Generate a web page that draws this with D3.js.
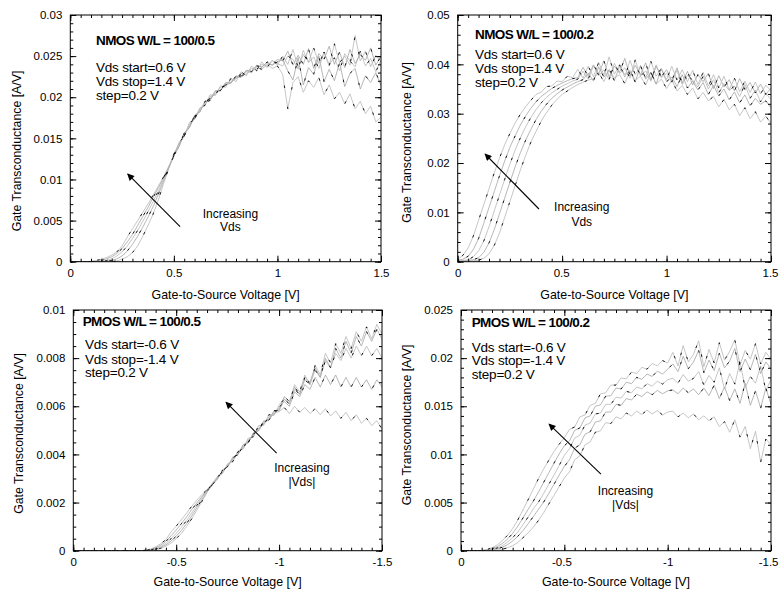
<!DOCTYPE html>
<html><head><meta charset="utf-8">
<script src="https://cdn.jsdelivr.net/npm/d3@7/dist/d3.min.js"></script>
<style>
body{margin:0;background:#fff;}
svg{display:block;font-family:"Liberation Sans",Arial,Helvetica,sans-serif;}
</style></head><body>
<svg id="chart" width="779" height="593"></svg>
<script>
// Gate-to-source voltage grids [V]
const VGS_N = [0,0.025,0.05,0.075,0.1,0.125,0.15,0.175,0.2,0.225,0.25,0.275,0.3,0.325,0.35,0.375,0.4,0.425,0.45,0.475,0.5,0.525,0.55,0.575,0.6,0.625,0.65,0.675,0.7,0.725,0.75,0.775,0.8,0.825,0.85,0.875,0.9,0.925,0.95,0.975,1,1.025,1.05,1.075,1.1,1.125,1.15,1.175,1.2,1.225,1.25,1.275,1.3,1.325,1.35,1.375,1.4,1.425,1.45,1.475,1.5];
const VGS_P = [0,-0.025,-0.05,-0.075,-0.1,-0.125,-0.15,-0.175,-0.2,-0.225,-0.25,-0.275,-0.3,-0.325,-0.35,-0.375,-0.4,-0.425,-0.45,-0.475,-0.5,-0.525,-0.55,-0.575,-0.6,-0.625,-0.65,-0.675,-0.7,-0.725,-0.75,-0.775,-0.8,-0.825,-0.85,-0.875,-0.9,-0.925,-0.95,-0.975,-1,-1.025,-1.05,-1.075,-1.1,-1.125,-1.15,-1.175,-1.2,-1.225,-1.25,-1.275,-1.3,-1.325,-1.35,-1.375,-1.4,-1.425,-1.45,-1.475,-1.5];

// Gate transconductance, in mA/V (converted to A/V for the axis)
// NMOS W/L = 100/0.5
const N05_VDS06 = [0,0,0,0,0,0,0,0,0.02,0.1,0.3,0.6,1.1,1.9,3.1,4.4,5.8,7.5,9.5,11.3,13.0,14.4,15.3,16.6,17.4,18.5,19.1,19.9,20.4,20.9,21.5,21.7,22.4,22.4,23.1,23.0,23.6,23.4,24.0,23.5,23.8,22.8,18.6,21.8,22.5,20.6,22.0,21.2,22.4,20.3,21.5,19.8,20.6,19.2,20.4,18.6,19.5,18.0,18.9,17.0,17.6];
const N05_VDS08 = [0,0,0,0,0,0,0,0.05,0.15,0.35,0.7,1.3,2.1,3.1,4.2,5.4,6.7,8.2,9.8,11.4,12.9,14.0,15.6,16.3,17.7,18.2,19.4,19.6,20.7,20.8,21.7,21.8,22.5,22.6,23.2,23.2,23.8,23.7,24.2,23.9,24.3,24.6,23.2,22.1,24.8,21.5,23.6,22.8,25.0,21.9,23.4,22.0,24.2,21.3,22.9,23.5,21.0,22.6,21.8,23.0,21.4];
const N05_VDS10 = [0,0,0,0,0,0,0.05,0.15,0.35,0.7,1.2,1.9,2.8,3.8,4.9,6.1,7.3,8.6,10.0,11.4,13.1,14.3,15.3,16.7,17.4,18.6,19.1,20.1,20.4,21.2,21.4,22.1,22.2,22.9,22.8,23.5,23.4,24.0,23.8,24.4,24.1,23.8,25.0,24.6,23.4,25.7,24.2,24.9,23.5,25.5,24.0,24.8,23.2,25.3,24.4,23.7,25.6,23.8,24.7,23.1,24.5];
const N05_VDS12 = [0,0,0,0,0,0.05,0.15,0.35,0.6,1.0,1.6,2.4,3.3,4.4,5.5,6.6,7.8,9.0,10.2,11.5,12.9,14.0,15.7,16.3,17.8,18.2,19.5,19.7,20.8,20.8,21.8,21.7,22.6,22.5,23.3,23.1,23.9,23.6,24.3,23.9,24.6,24.4,25.6,23.9,25.1,24.0,25.9,23.5,25.3,24.6,26.2,24.0,25.5,23.6,25.8,24.1,25.2,24.5,26.0,23.9,25.0];
const N05_VDS14 = [0,0,0,0,0.05,0.15,0.3,0.5,0.8,1.2,1.9,3.0,4.0,5.0,6.0,7.0,8.1,9.2,10.3,11.6,12.8,14.5,15.2,16.9,17.3,18.7,19.0,20.3,20.2,21.4,21.2,22.3,21.9,23.1,22.6,23.8,23.2,24.3,23.6,24.5,23.9,25.0,24.0,25.8,23.6,25.2,24.3,26.0,24.1,25.4,23.8,26.5,24.2,25.0,23.9,27.5,24.4,25.6,23.7,25.1,24.3];

// NMOS W/L = 100/0.2
const N02_VDS06 = [0.05,0.08,0.12,0.2,0.3,0.7,1.6,3.3,5.8,9.0,12.2,15.4,18.6,21.5,24.2,26.4,28.5,30.2,31.7,32.9,33.9,34.6,35.3,35.9,36.4,36.8,37.1,38.3,36.5,39.0,37.2,37.9,36.1,38.8,36.7,37.6,35.8,38.4,36.0,37.0,35.1,36.8,34.6,35.7,33.9,35.2,33.0,34.3,32.6,33.5,31.4,32.9,30.8,31.9,29.6,31.2,29.0,30.4,28.3,29.5,28.0];
const N02_VDS08 = [0.1,0.15,0.25,0.4,0.8,1.9,3.8,6.5,9.7,12.9,16.1,19.2,22.1,24.6,26.8,28.8,30.5,31.9,33.1,34.0,34.8,35.4,36.0,36.5,36.9,38.2,36.6,39.5,37.4,38.8,36.7,39.6,37.9,38.5,36.4,39.8,37.0,38.3,36.0,39.1,36.5,37.4,35.5,37.9,35.2,36.6,34.8,36.3,33.9,35.7,33.6,35.0,32.8,34.4,32.2,33.8,31.6,33.1,31.9,32.6,31.2];
const N02_VDS10 = [0.15,0.25,0.4,1.0,2.2,4.2,7.1,10.3,13.5,16.7,19.8,22.6,25.1,27.3,29.2,30.8,32.2,33.3,34.2,34.9,35.6,36.1,36.6,37.0,38.6,37.0,39.7,37.8,38.9,36.9,40.2,38.1,39.3,37.2,40.9,37.6,38.7,36.6,39.9,37.3,38.2,36.4,38.8,35.9,37.8,36.8,35.4,37.6,35.0,36.9,34.2,36.1,34.7,35.6,33.5,35.9,33.1,34.8,32.4,34.1,32.9];
const N02_VDS12 = [0.3,0.5,1.1,2.5,4.7,7.8,11.0,14.2,17.4,20.4,23.2,25.5,27.7,29.5,31.1,32.4,33.5,34.3,35.1,35.7,36.2,36.7,37.1,37.3,39.4,37.6,39.9,38.1,40.7,37.5,39.6,38.4,41.2,37.7,39.8,37.9,40.3,36.8,39.6,37.5,38.9,36.7,39.3,36.2,38.6,35.8,37.9,36.5,38.2,35.1,37.7,35.4,36.9,34.6,37.1,34.9,36.3,34.2,36.0,33.9,35.2];
const N02_VDS14 = [0.5,1.3,2.8,5.2,8.4,11.6,14.8,18.0,21.0,23.7,26.0,28.1,29.9,31.4,32.7,33.9,34.4,35.5,35.6,36.6,36.5,37.6,37.3,39.0,37.2,39.6,37.5,40.4,37.8,41.5,38.0,39.9,37.4,40.8,37.9,39.5,37.2,40.6,37.6,39.2,36.9,39.6,36.8,38.9,36.5,38.8,35.9,38.4,35.6,37.9,35.2,37.6,34.8,37.2,34.5,36.6,34.3,36.4,34.0,35.8,34.6];

// PMOS W/L = 100/0.5
const P05_VDS06 = [0,0,0,0,0,0,0,0,0,0,0,0,0,0,0,0.01,0.04,0.1,0.19,0.32,0.5,0.72,1.0,1.32,1.68,2.05,2.42,2.74,2.98,3.3,3.5,3.82,4.0,4.32,4.5,4.85,4.98,5.3,5.42,5.72,5.78,5.95,5.7,6.0,5.75,5.95,5.7,5.9,5.65,5.9,5.6,5.8,5.5,5.75,5.4,5.65,5.3,5.5,5.2,5.4,5.05];
const P05_VDS08 = [0,0,0,0,0,0,0,0,0,0,0,0,0,0,0,0.02,0.06,0.14,0.24,0.4,0.6,0.84,1.12,1.44,1.78,2.12,2.45,2.74,3.04,3.24,3.58,3.72,4.1,4.25,4.6,4.75,5.1,5.25,5.55,5.66,5.95,6.2,6.0,6.6,6.4,6.9,6.7,7.2,6.8,7.3,6.9,7.3,6.8,7.2,6.8,7.2,6.8,7.1,6.7,7.1,6.8];
const P05_VDS10 = [0,0,0,0,0,0,0,0,0,0,0,0,0,0,0,0.03,0.09,0.18,0.3,0.5,0.72,0.97,1.25,1.56,1.88,2.2,2.48,2.78,2.96,3.35,3.48,3.9,3.98,4.42,4.48,4.9,4.98,5.4,5.42,5.82,5.8,6.3,6.1,6.7,6.5,7.1,6.9,7.5,7.2,7.9,7.6,8.2,7.9,8.4,8.0,8.5,8.1,8.5,8.1,8.4,8.0];
const P05_VDS12 = [0,0,0,0,0,0,0,0,0,0,0,0,0,0,0.01,0.05,0.12,0.23,0.38,0.62,0.86,1.12,1.4,1.7,1.98,2.25,2.5,2.72,3.02,3.3,3.5,3.85,4.0,4.38,4.5,4.88,5.0,5.36,5.45,5.78,5.85,6.4,6.2,6.8,6.5,7.2,7.0,7.6,7.2,8.0,7.6,8.4,8.0,8.7,8.2,8.9,8.5,9.1,8.7,9.2,8.8];
const P05_VDS14 = [0,0,0,0,0,0,0,0,0,0,0,0,0,0,0.02,0.07,0.16,0.29,0.46,0.78,1.02,1.28,1.56,1.84,2.1,2.33,2.54,2.8,3.08,3.2,3.62,3.7,4.15,4.22,4.68,4.72,5.2,5.2,5.65,5.62,6.05,6.3,6.1,6.9,6.6,7.3,6.9,7.7,7.3,8.2,7.8,8.6,8.2,8.9,8.4,9.1,8.7,9.3,8.8,9.4,9.0];

// PMOS W/L = 100/0.2
const P02_VDS06 = [0,0,0,0,0,0,0.02,0.06,0.15,0.3,0.52,0.85,1.35,1.85,2.45,3.15,3.95,4.85,5.75,6.65,7.55,8.2,9.45,9.85,11.0,11.3,12.3,12.45,13.3,13.2,13.9,13.7,14.3,14.0,14.5,14.15,14.6,14.2,14.55,14.1,14.4,14.5,13.9,14.3,13.8,14.2,13.6,14.0,13.5,13.9,12.9,13.4,12.3,13.6,11.8,12.9,10.6,12.4,9.2,11.6,11.0];
const P02_VDS08 = [0,0,0,0,0,0.02,0.07,0.18,0.36,0.62,1.0,1.5,2.1,2.8,3.55,4.3,5.05,5.95,6.9,7.85,8.75,9.45,10.65,11.0,12.1,12.35,13.35,13.5,14.4,14.4,15.2,15.1,15.8,15.65,16.25,16.0,16.5,16.2,16.65,16.3,16.6,16.7,16.3,16.9,16.4,16.8,16.2,16.9,16.1,17.2,15.8,17.0,15.6,16.8,15.3,17.4,15.1,16.6,14.8,16.9,15.2];
const P02_VDS10 = [0,0,0,0,0,0.04,0.12,0.28,0.52,0.88,1.35,1.95,2.7,3.5,4.35,5.05,5.95,6.9,7.85,8.85,9.9,10.6,11.7,12.0,13.05,13.25,14.2,14.3,15.2,15.2,15.95,15.85,16.55,16.4,17.0,16.8,17.35,17.1,17.6,17.3,17.75,17.9,17.4,18.3,17.6,17.9,18.6,17.2,18.2,17.5,19.0,16.8,18.4,17.3,19.6,16.9,18.1,17.4,19.2,16.6,17.8];
const P02_VDS12 = [0,0,0,0,0.02,0.07,0.2,0.42,0.75,1.2,1.8,2.55,3.4,4.3,5.15,6.1,7.1,8.1,9.1,10.05,10.9,11.4,12.5,12.75,13.8,14.0,15.0,15.15,16.05,16.1,16.9,16.8,17.5,17.35,18.0,17.8,18.35,18.1,18.65,18.35,18.85,19.4,18.6,20.2,18.9,19.6,20.8,18.5,19.8,18.7,20.5,19.0,19.7,21.0,18.6,19.9,18.8,20.4,18.4,19.6,18.9];
const P02_VDS14 = [0,0,0,0,0.03,0.12,0.3,0.6,1.05,1.6,2.3,3.2,4.25,5.3,6.4,7.5,8.5,9.4,10.3,11.05,11.75,12.6,12.85,13.9,14.1,15.1,15.3,16.3,16.4,17.2,17.2,17.95,17.85,18.55,18.4,19.05,18.85,19.45,19.2,19.75,19.5,20.6,19.2,21.3,19.6,20.4,21.8,19.1,20.9,19.5,21.6,19.8,20.7,21.9,19.3,20.8,19.9,21.5,19.4,20.6,19.9];

// Tick labels
const X_TICKS_N = [0, 0.5, 1, 1.5];
const X_TICKS_P = [0, -0.5, -1, -1.5];
const Y_TICKS_N05 = [0, 0.005, 0.01, 0.015, 0.02, 0.025, 0.03];
const Y_TICKS_N02 = [0, 0.01, 0.02, 0.03, 0.04, 0.05];
const Y_TICKS_P05 = [0, 0.002, 0.004, 0.006, 0.008, 0.01];
const Y_TICKS_P02 = [0, 0.005, 0.01, 0.015, 0.02, 0.025];

const TITLES = ["NMOS W/L = 100/0.5", "NMOS W/L = 100/0.2", "PMOS W/L = 100/0.5", "PMOS W/L = 100/0.2"];
const PARAMS_N = ["Vds start=0.6 V", "Vds stop=1.4 V", "step=0.2 V"];
const PARAMS_P = ["Vds start=-0.6 V", "Vds stop=-1.4 V", "step=0.2 V"];
const X_TITLE = "Gate-to-Source Voltage [V]";
const Y_TITLE = "Gate Transconductance [A/V]";

const panels = [
  {title: TITLES[0], params: PARAMS_N, xs: VGS_N, xDomain: [0, 1.5], xTicks: X_TICKS_N, yTicks: Y_TICKS_N05, yMinor: 0.001,
   curves: [N05_VDS06, N05_VDS08, N05_VDS10, N05_VDS12, N05_VDS14],
   box: {l: 70.3, r: 381, t: 15, b: 261.7}, titlePos: [25.7, 29.5], paramPos: [25.7, 57, 71, 85],
   arrow: [[0.53, 4.26], [0.277, 10.67]], label: ["Increasing", "Vds"], labelPos: [0.773, 5.31, 3.73],
   xTitleDy: 37.5, yTitleX: 21, yTitleY: 151, edge: false},
  {title: TITLES[1], params: PARAMS_N, xs: VGS_N, xDomain: [0, 1.5], xTicks: X_TICKS_N, yTicks: Y_TICKS_N02, yMinor: 0.002,
   curves: [N02_VDS06, N02_VDS08, N02_VDS10, N02_VDS12, N02_VDS14],
   box: {l: 457.7, r: 771, t: 15, b: 261.7}, titlePos: [17.3, 23.5], paramPos: [17.3, 44, 58, 71.5],
   arrow: [[0.389, 10.68], [0.131, 21.83]], label: ["Increasing", "Vds"], labelPos: [0.594, 10.28, 7.24],
   xTitleDy: 37.5, yTitleX: 411, yTitleY: 142.5, edge: true},
  {title: TITLES[2], params: PARAMS_P, xs: VGS_P, xDomain: [0, -1.5], xTicks: X_TICKS_P, yTicks: Y_TICKS_P05, yMinor: 0.0005,
   curves: [P05_VDS06, P05_VDS08, P05_VDS10, P05_VDS12, P05_VDS14],
   box: {l: 73.3, r: 382, t: 310, b: 550.7}, titlePos: [9.4, 16], paramPos: [11.7, 39, 53.5, 67],
   arrow: [[-0.988, 4.05], [-0.742, 6.17]], label: ["Increasing", "|Vds|"], labelPos: [-1.111, 3.27, 2.69],
   xTitleDy: 35.5, yTitleX: 22.8, yTitleY: 433.5, edge: false},
  {title: TITLES[3], params: PARAMS_P, xs: VGS_P, xDomain: [0, -1.5], xTicks: X_TICKS_P, yTicks: Y_TICKS_P02, yMinor: 0.001,
   curves: [P02_VDS06, P02_VDS08, P02_VDS10, P02_VDS12, P02_VDS14],
   box: {l: 461, r: 771, t: 310, b: 550.7}, titlePos: [10.7, 16.5], paramPos: [10.7, 41.5, 55, 69],
   arrow: [[-0.677, 7.96], [-0.426, 13.15]], label: ["Increasing", "|Vds|"], labelPos: [-0.796, 5.79, 4.34],
   xTitleDy: 35.5, yTitleX: 411, yTitleY: 425, edge: true}
];

const svg = d3.select("#chart");
const defs = svg.append("defs");
defs.append("marker").attr("id", "arrowhead").attr("viewBox", "0 0 10 10")
  .attr("refX", 9).attr("refY", 5).attr("markerWidth", 10).attr("markerHeight", 7)
  .attr("markerUnits", "userSpaceOnUse").attr("orient", "auto")
  .append("path").attr("d", "M0,0 L10,5 L0,10 Z").attr("fill", "#000");

const SVG_W = 779;

panels.forEach((p, pi) => {
  const B = p.box;
  const x = d3.scaleLinear().domain(p.xDomain).range([B.l, B.r]);
  const yMax = p.yTicks[p.yTicks.length - 1];
  const y = d3.scaleLinear().domain([0, yMax]).range([B.b, B.t]);
  const g = svg.append("g");

  const cid = "clip" + pi;
  defs.append("clipPath").attr("id", cid).append("rect")
    .attr("x", B.l).attr("y", B.t).attr("width", B.r - B.l).attr("height", B.b - B.t);

  const line = d3.line().x((d, i) => x(p.xs[i])).y(d => y(d * 1e-3));
  const cg = g.append("g").attr("clip-path", `url(#${cid})`);
  p.curves.forEach((c, ci) => {
    cg.append("path").attr("d", line(c)).attr("fill", "none")
      .attr("stroke", ci % 2 ? "#a4a4a4" : "#b8b8b8").attr("stroke-width", 0.8);
  });
  p.curves.forEach((c, ci) => {
    cg.append("path").attr("d", line(c)).attr("fill", "none")
      .attr("stroke", "#000").attr("stroke-width", 0.9)
      .attr("stroke-dasharray", "2.5,19").attr("stroke-dashoffset", ci * 4);
  });

  // minor ticks
  const xMinor = d3.range(0, 31).map(k => p.xDomain[1] * k / 30);
  const nMinor = Math.round(yMax / p.yMinor);
  const yMinor = d3.range(0, nMinor + 1).map(k => k * p.yMinor);
  const fmt = d => String(d);

  const axes = [
    [d3.axisBottom(x).tickValues(p.xTicks).tickSizeInner(-6).tickSizeOuter(0).tickPadding(7).tickFormat(fmt), `translate(0,${B.b})`, "xlab"],
    [d3.axisBottom(x).tickValues(xMinor).tickSizeInner(-3).tickSizeOuter(0).tickFormat(""), `translate(0,${B.b})`],
    [d3.axisTop(x).tickValues(p.xTicks).tickSizeInner(-6).tickSizeOuter(0).tickFormat(""), `translate(0,${B.t})`],
    [d3.axisTop(x).tickValues(xMinor).tickSizeInner(-3).tickSizeOuter(0).tickFormat(""), `translate(0,${B.t})`],
    [d3.axisLeft(y).tickValues(p.yTicks).tickSizeInner(-6).tickSizeOuter(0).tickPadding(8).tickFormat(fmt), `translate(${B.l},0)`],
    [d3.axisLeft(y).tickValues(yMinor).tickSizeInner(-3).tickSizeOuter(0).tickFormat(""), `translate(${B.l},0)`],
    [d3.axisRight(y).tickValues(p.yTicks).tickSizeInner(-6).tickSizeOuter(0).tickFormat(""), `translate(${B.r},0)`],
    [d3.axisRight(y).tickValues(yMinor).tickSizeInner(-3).tickSizeOuter(0).tickFormat(""), `translate(${B.r},0)`]
  ];
  axes.forEach(([ax, tr, kind]) => {
    const a = g.append("g").attr("transform", tr).call(ax);
    a.select(".domain").remove();
    a.selectAll("line").attr("stroke", "#000").attr("stroke-width", 1);
    a.selectAll("text").attr("font-size", "11.5px").attr("fill", "#000")
      .attr("font-family", '"Liberation Sans", Arial, sans-serif');
    if (kind === "xlab" && p.edge) {
      // keep the last label fully inside the page
      a.selectAll("text").each(function() {
        const bb = this.getBBox();
        const over = (B.r + bb.x + bb.width) - (SVG_W - 1);
        if (over > 0) d3.select(this).attr("dx", -over);
      });
    }
  });

  g.append("rect").attr("x", B.l).attr("y", B.t).attr("width", B.r - B.l).attr("height", B.b - B.t)
    .attr("fill", "none").attr("stroke", "#000").attr("stroke-width", 1);

  // axis titles
  g.append("text").attr("x", (B.l + B.r) / 2).attr("y", B.b + p.xTitleDy)
    .attr("text-anchor", "middle").attr("font-size", "12.4px").text(X_TITLE);
  g.append("text").attr("transform", `translate(${p.yTitleX},${p.yTitleY}) rotate(-90)`)
    .attr("text-anchor", "middle").attr("font-size", "12.3px").text(Y_TITLE);

  // in-plot text
  g.append("text").attr("x", B.l + p.titlePos[0]).attr("y", B.t + p.titlePos[1])
    .attr("font-size", "13.5px").attr("font-weight", "bold").attr("letter-spacing", "-0.6px").text(p.title);
  p.params.forEach((s, k) => {
    g.append("text").attr("x", B.l + p.paramPos[0]).attr("y", B.t + p.paramPos[k + 1])
      .attr("font-size", "13.5px").attr("letter-spacing", "-0.2px").text(s);
  });

  // arrow + label
  g.append("line")
    .attr("x1", x(p.arrow[0][0])).attr("y1", y(p.arrow[0][1] * 1e-3))
    .attr("x2", x(p.arrow[1][0])).attr("y2", y(p.arrow[1][1] * 1e-3))
    .attr("stroke", "#000").attr("stroke-width", 1.1).attr("marker-end", "url(#arrowhead)");
  g.append("text").attr("x", x(p.labelPos[0])).attr("y", y(p.labelPos[1] * 1e-3))
    .attr("text-anchor", "middle").attr("font-size", "12px").text(p.label[0]);
  g.append("text").attr("x", x(p.labelPos[0])).attr("y", y(p.labelPos[2] * 1e-3))
    .attr("text-anchor", "middle").attr("font-size", "12px").text(p.label[1]);
});
</script>
</body></html>
